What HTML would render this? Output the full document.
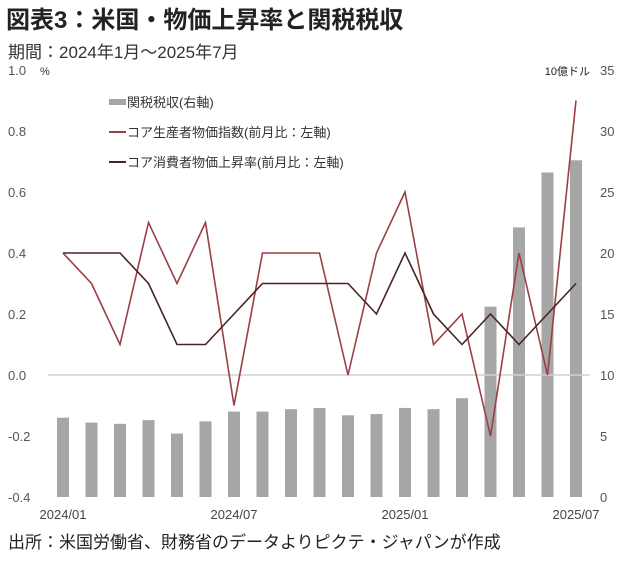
<!DOCTYPE html>
<html><head><meta charset="utf-8"><style>
body{margin:0;background:#fff;}
svg text{font-family:"Liberation Sans","Noto Sans CJK JP",sans-serif;}
</style></head><body>
<svg width="626" height="562" viewBox="0 0 626 562">
<text x="6" y="28" font-size="24" font-weight="bold" fill="#222">図表3：米国・物価上昇率と関税税収</text>
<text x="8" y="58" font-size="17" fill="#333">期間：2024年1月～2025年7月</text>
<text x="8" y="548" font-size="17" fill="#222">出所：米国労働省、財務省のデータよりピクテ・ジャパンが作成</text>
<g id="plot"></g>
</svg>
<script>
const categories=["2024/01","2024/02","2024/03","2024/04","2024/05","2024/06","2024/07","2024/08","2024/09","2024/10","2024/11","2024/12","2025/01","2025/02","2025/03","2025/04","2025/05","2025/06","2025/07"];
const tariffRevenue=[6.5,6.1,6.0,6.3,5.2,6.2,7.0,7.0,7.2,7.3,6.7,6.8,7.3,7.2,8.1,15.6,22.1,26.6,27.6];
const corePPI=[0.4,0.3,0.1,0.5,0.3,0.5,-0.1,0.4,0.4,0.4,0.0,0.4,0.6,0.1,0.2,-0.2,0.4,0.0,0.9];
const coreCPI=[0.4,0.4,0.4,0.3,0.1,0.1,0.2,0.3,0.3,0.3,0.3,0.2,0.4,0.2,0.1,0.2,0.1,0.2,0.3];
const leftTicks=["1.0","0.8","0.6","0.4","0.2","0.0","-0.2","-0.4"];
const rightTicks=[35,30,25,20,15,10,5,0];
const xLabels=["2024/01","2024/07","2025/01","2025/07"];
const NS="http://www.w3.org/2000/svg";
const g=document.getElementById('plot');
const x=i=>63+i*(576-63)/(categories.length-1);
const yL=v=>375-v*305;
const yR=v=>497-v*(427/35);
function mk(t,a,txt){const e=document.createElementNS(NS,t);for(const k in a)e.setAttribute(k,a[k]);if(txt!=null)e.textContent=txt;g.appendChild(e);return e;}
leftTicks.forEach(t=>{const e=mk('text',{x:8,y:yL(parseFloat(t))+5,'font-size':13,fill:'#555'},t);

});
let u=mk('text',{x:40,y:75,'font-size':11,fill:'#333'},'%');


rightTicks.forEach(t=>{const e=mk('text',{x:600,y:yR(t)+5,'font-size':13,fill:'#555'},String(t));

});
u=mk('text',{x:590,y:75,'font-size':11,fill:'#222','text-anchor':'end'},'10億ドル');


tariffRevenue.forEach((v,i)=>{const b=mk('rect',{x:x(i)-6,y:yR(v),width:12,height:yR(0)-yR(v),fill:'#a6a6a6'});

});
const ax=mk('line',{x1:48,x2:590,y1:yL(0),y2:yL(0),stroke:'#d0d0d0','stroke-width':1.5});


function line(d,c,n){const p=mk('polyline',{points:d.map((v,i)=>x(i)+','+yL(v)).join(' '),fill:'none',stroke:c,'stroke-width':1.6});

}
line(corePPI,'#9b3f46','line-core-ppi');
line(coreCPI,'#4a2424','line-core-cpi');
xLabels.forEach(l=>{const i=categories.indexOf(l);const e=mk('text',{x:x(i),y:519,'font-size':13,fill:'#444','text-anchor':'middle'},l);

});
const leg=[['関税税収(右軸)','#a6a6a6',6],['コア生産者物価指数(前月比：左軸)','#9b3f46',2],['コア消費者物価上昇率(前月比：左軸)','#4a2424',2]];
leg.forEach((l,k)=>{const yy=102+k*30;
const s=mk('rect',{x:109,y:yy-l[2]/2,width:17,height:l[2],fill:l[1]});


const t=mk('text',{x:127,y:yy+5,'font-size':13,fill:'#333'},l[0]);

});
</script>
</body></html>
